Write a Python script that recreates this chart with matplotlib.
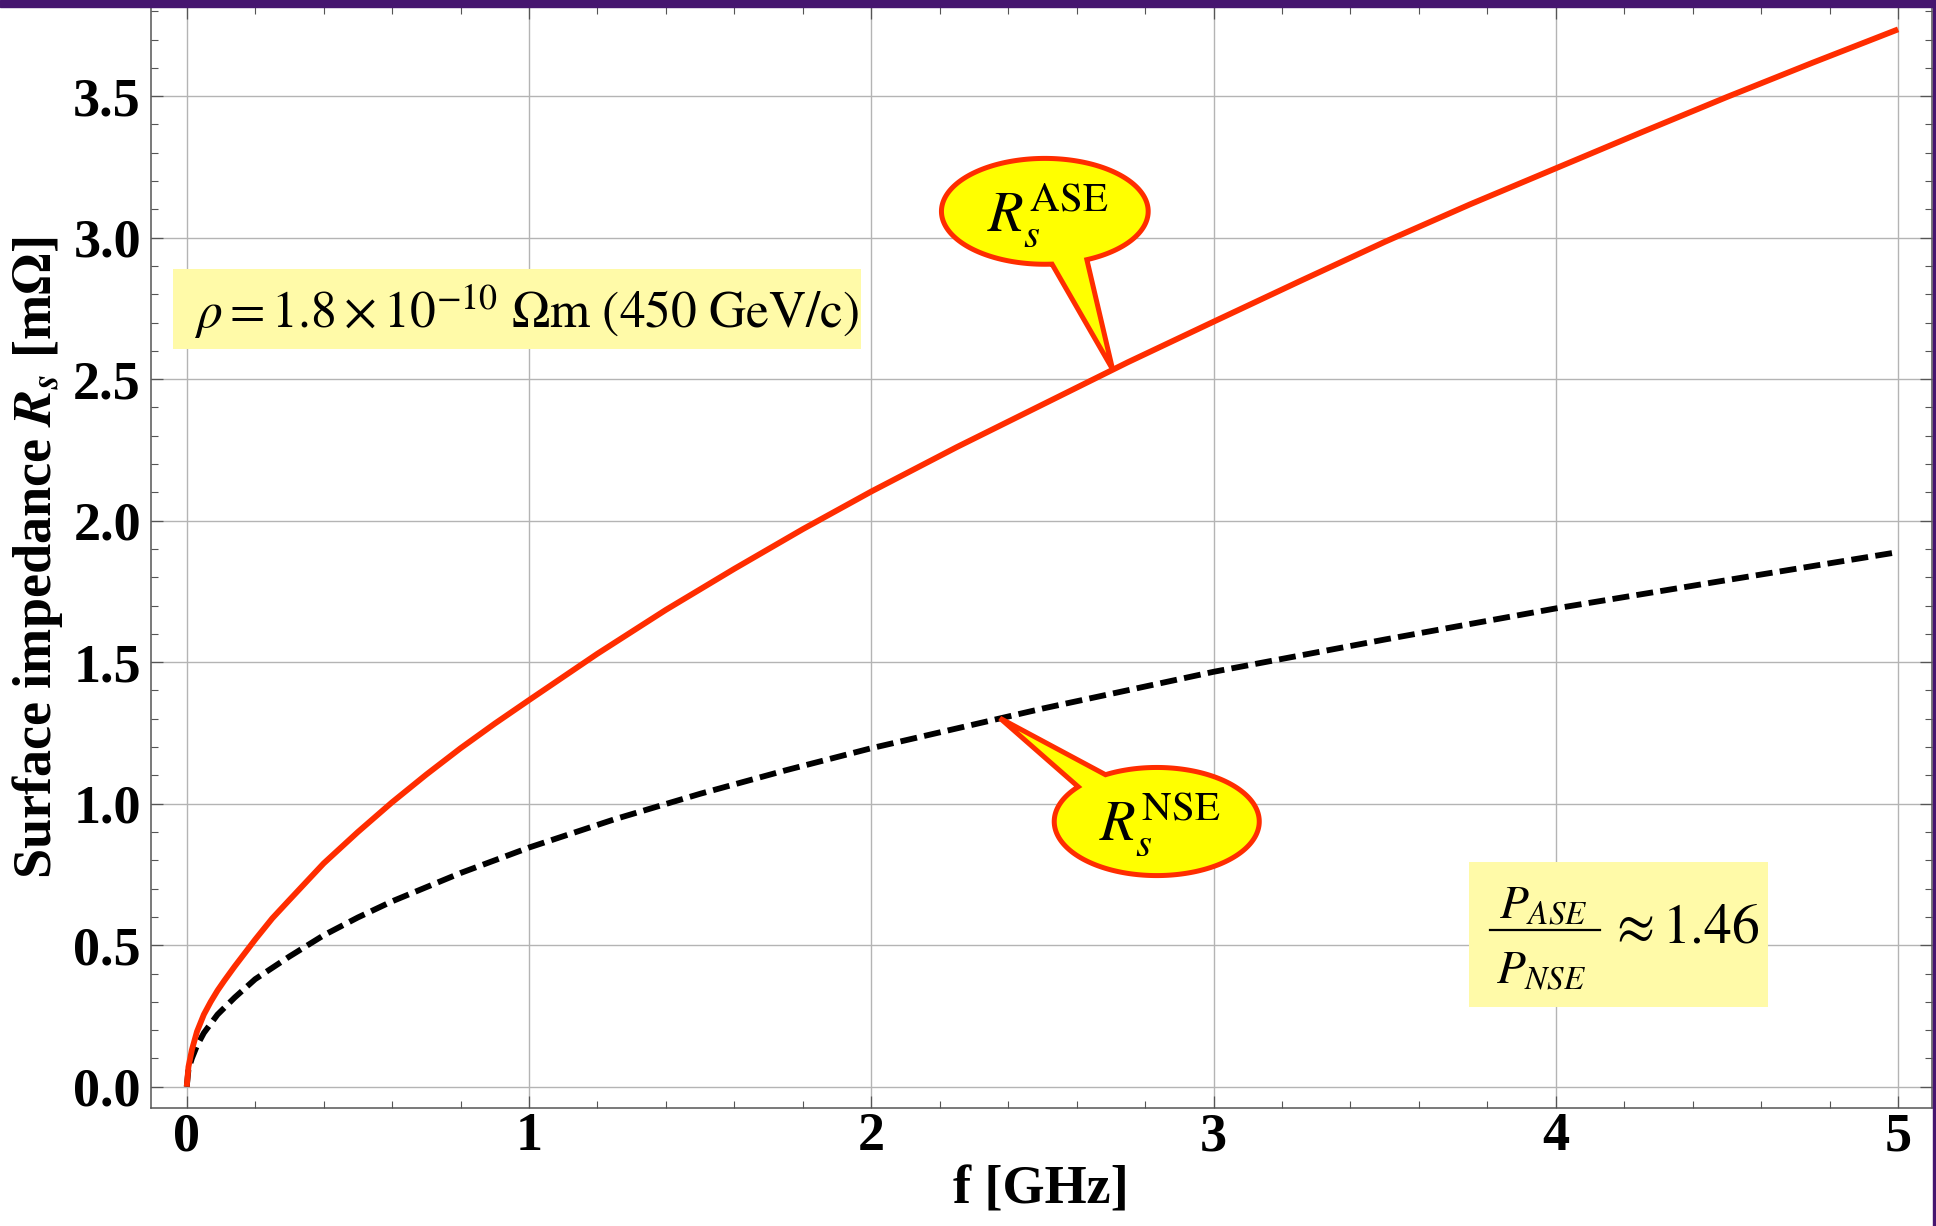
import numpy as np
import matplotlib
matplotlib.use("Agg")
from matplotlib import pyplot as plt
from matplotlib.patches import Polygon, Rectangle

plt.rcParams['mathtext.fontset'] = 'stix'
plt.rcParams['font.family'] = ['Liberation Serif', 'DejaVu Serif']

# values (f in GHz, Rs in mOhm)
f_ase = [0, 0.005, 0.015, 0.03, 0.05, 0.07, 0.09, 0.11, 0.14, 0.2, 0.25, 0.3, 0.4,
         0.5, 0.6, 0.7, 0.8, 0.9, 1.0, 1.2, 1.4, 1.6, 1.8, 2.0, 2.25, 2.5, 2.75,
         3.0, 3.25, 3.5, 3.75, 4.0, 4.25, 4.5, 4.75, 5.0]
rs_ase = [0, 0.07, 0.13, 0.195, 0.255, 0.30, 0.34, 0.375, 0.425, 0.52, 0.595,
          0.66, 0.789, 0.90, 1.005, 1.103, 1.196, 1.283, 1.366, 1.53, 1.685, 1.83,
          1.97, 2.103, 2.26, 2.41, 2.56, 2.703, 2.845, 2.985, 3.118, 3.245, 3.372,
          3.497, 3.618, 3.736]

f_nse = [0, 0.005, 0.015, 0.03, 0.05, 0.09, 0.14, 0.2, 0.3, 0.4, 0.5, 0.6, 0.8,
         1.0, 1.25, 1.5, 1.75, 2.0, 2.5, 3.0, 3.5, 4.0, 4.5, 5.0]
rs_nse = [0, 0.06, 0.10, 0.145, 0.19, 0.255, 0.315, 0.38, 0.46, 0.535, 0.598,
          0.655, 0.755, 0.845, 0.945, 1.035, 1.118, 1.196, 1.336, 1.466, 1.58,
          1.69, 1.79, 1.889]

xticks = [0, 1, 2, 3, 4, 5]
yticks = [0.0, 0.5, 1.0, 1.5, 2.0, 2.5, 3.0, 3.5]

red = '#ff2d00'
purple = '#46166f'
paleyellow = '#fffaa8'

fig = plt.figure(figsize=[19.36, 12.26], dpi=100)
ax = fig.add_axes([0.0778, 0.0960, 0.9201, 0.8983])

ax.plot(f_nse, rs_nse, color='black', lw=4.2, ls=(0, (2.9, 1.25)),
        dash_capstyle='butt', solid_joinstyle='round', zorder=3)
ax.plot(f_ase, rs_ase, color=red, lw=4.2, solid_capstyle='butt',
        solid_joinstyle='round', zorder=4)

ax.set_xlim(-0.1055, 5.0988)
ax.set_ylim(-0.0763, 3.815)
ax.set_xticks(xticks)
ax.set_xticklabels([str(v) for v in xticks])
ax.set_yticks(yticks)
ax.set_yticklabels(['%.1f' % v for v in yticks])
ax.set_xticks(np.arange(0, 5.01, 0.2), minor=True)
ax.set_yticks(np.arange(0, 3.81, 0.1), minor=True)
ax.grid(True, which='major', color='#b4b4b4', lw=1.0)
ax.tick_params(which='both', direction='in', top=True, right=True, color='#555555')
ax.tick_params(which='major', length=8.6, width=0.9, labelsize=39)
ax.tick_params(which='minor', length=5, width=0.8)
ax.tick_params(axis='x', pad=3)
ax.tick_params(axis='y', pad=7)
for lab in ax.get_xticklabels() + ax.get_yticklabels():
    lab.set_fontweight('bold')
for s in ax.spines.values():
    s.set_color('#555555')
    s.set_linewidth(1.1)

ax.set_xlabel('f [GHz]', fontsize=39, fontweight='bold', labelpad=2)
ax.set_ylabel(r'Surface impedance $\mathbfit{R}_\mathbfit{s}$ [m$\mathbf{\Omega}$]',
              fontsize=39, fontweight='bold', labelpad=6)


def bubble(cx, cy, rx, ry, a_lo, a_hi, tip, label, tx, ty):
    # ellipse arc the long way round, then out to the tip
    t = np.radians(np.linspace(a_hi, a_lo + 360, 240))
    pts = np.column_stack([cx + rx * np.cos(t), cy + ry * np.sin(t)])
    pts = np.vstack([pts, tip])
    ax.add_patch(Polygon(pts, closed=True, fc='#ffff00', ec=red, lw=3.6,
                         joinstyle='miter', zorder=5))
    ax.text(tx, ty, label, fontsize=42, ha='center', va='center', zorder=6)


bubble(2.507, 3.093, 0.302, 0.187, -86, -66, (2.705, 2.535),
       r'$R_s^{\mathrm{ASE}}$', 2.516, 3.08)
bubble(2.834, 0.937, 0.2995, 0.191, 120, 140, (2.376, 1.302),
       r'$R_s^{\mathrm{NSE}}$', 2.843, 0.928)

ax.add_patch(Rectangle((-0.040, 2.607), 2.010, 0.282, fc=paleyellow, ec='none', zorder=5))
ax.text(0.022, 2.738, r'$\rho = 1.8\times10^{-10}\ \Omega\mathrm{m}\ (450\ \mathrm{GeV/c})$',
        fontsize=37, ha='left', va='center', zorder=6)

# ratio box, fraction built by hand so it keeps the large numerator/denominator
ax.add_patch(Rectangle((3.746, 0.2816), 0.874, 0.512, fc=paleyellow, ec='none', zorder=5))
ax.text(3.962, 0.596, r'$P_{ASE}$', fontsize=34, ha='center', va='baseline', zorder=6)
ax.text(3.958, 0.365, r'$P_{NSE}$', fontsize=34, ha='center', va='baseline', zorder=6)
ax.plot([3.807, 4.129], [0.5537, 0.5537], color='black', lw=1.6, zorder=6)
ax.text(4.152, 0.511, r'$\approx 1.46$', fontsize=40, ha='left', va='baseline', zorder=6)

# purple frame of the slide
fig.add_artist(Rectangle((0, 1 - 7 / 1226), 1, 7 / 1226, transform=fig.transFigure,
                         color=purple, zorder=10))
fig.add_artist(Rectangle((1933 / 1936, 0), 2 / 1936, 1, transform=fig.transFigure,
                         color=purple, zorder=10))

fig.savefig('out.png', dpi=100)
